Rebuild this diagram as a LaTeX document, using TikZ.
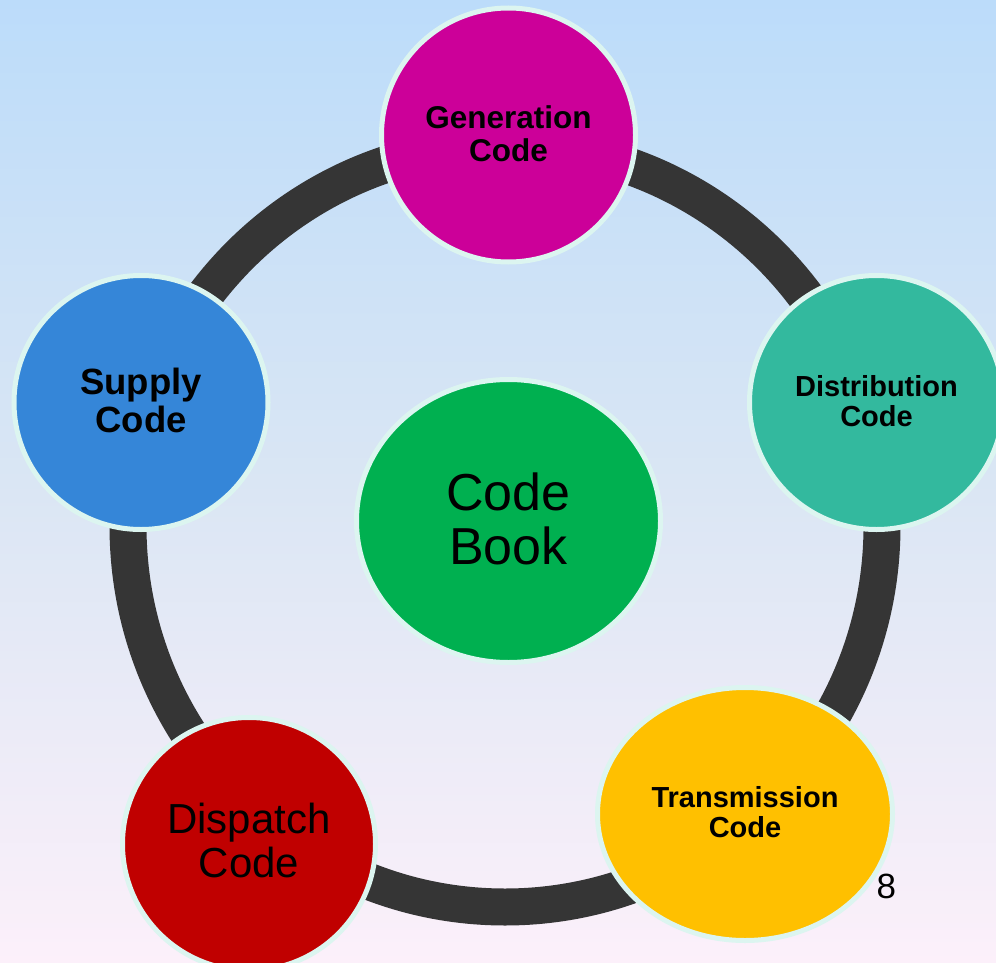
\documentclass[tikz,border=0pt]{standalone}
\usepackage{fontspec}
\setmainfont{Liberation Sans}
\usetikzlibrary{shapes.geometric}
\definecolor{bgtop}{HTML}{BCDCFA}
\definecolor{bgmid}{HTML}{DAE6F4}
\definecolor{bgbot}{HTML}{FCF0FA}
\definecolor{ringcol}{HTML}{353535}
\definecolor{rimcol}{HTML}{DCF5F0}
\definecolor{gencol}{HTML}{CC0099}
\definecolor{distcol}{HTML}{33B99E}
\definecolor{transcol}{HTML}{FFC000}
\definecolor{dispcol}{HTML}{C00000}
\definecolor{supcol}{HTML}{3586D8}
\definecolor{bookcol}{HTML}{00B050}
\begin{document}
\begin{tikzpicture}[x=1pt,y=-1pt,
  bubble/.style={circle, draw=rimcol, line width=5pt, inner sep=0pt, align=center, text=black},
  oval/.style={ellipse, draw=rimcol, line width=5pt, inner sep=0pt, align=center, text=black},
  ringline/.style={draw=ringcol, line width=37pt}]
\shade[top color=bgtop, bottom color=bgbot, middle color=bgmid] (0,0) rectangle (996,963);
\useasboundingbox (0,0) rectangle (996,963);
% ring behind the circles
\coordinate (hub) at (505,526);
\draw[ringline] (hub) ellipse [x radius=377pt, y radius=381pt];
% nodes
\node[bubble, fill=gencol, minimum size=254pt, text depth=2pt,
      font=\bfseries\fontsize{31.5}{33}\selectfont] (gen) at (508.5,135) {Generation\\Code};
\node[bubble, fill=distcol, minimum size=254pt, text depth=3pt,
      font=\bfseries\fontsize{29}{30}\selectfont] (dist) at (876.5,402.5) {Distribution\\Code};
\node[bubble, fill=supcol, minimum size=254pt, text depth=4pt,
      font=\bfseries\fontsize{36.5}{38}\selectfont] (sup) at (141,402.5) {Supply\\Code};
\node[oval, fill=transcol, minimum width=295pt, minimum height=253pt, text depth=4pt,
      font=\bfseries\fontsize{29}{30}\selectfont] (trans) at (745,814) {Transmission\\Code};
\node[bubble, fill=dispcol, minimum size=253pt, text depth=8pt,
      font=\fontsize{42}{44}\selectfont] (disp) at (249,844) {Dispatch\\Code};
\node[oval, fill=bookcol, minimum width=304pt, minimum height=283pt, text depth=4pt,
      font=\fontsize{52}{54}\selectfont] (book) at (508.5,521) {Code\\Book};
\node[anchor=base west, inner sep=0pt, font=\fontsize{35}{40}\selectfont] (slide) at (876.5,898) {8};
\end{tikzpicture}
\end{document}
